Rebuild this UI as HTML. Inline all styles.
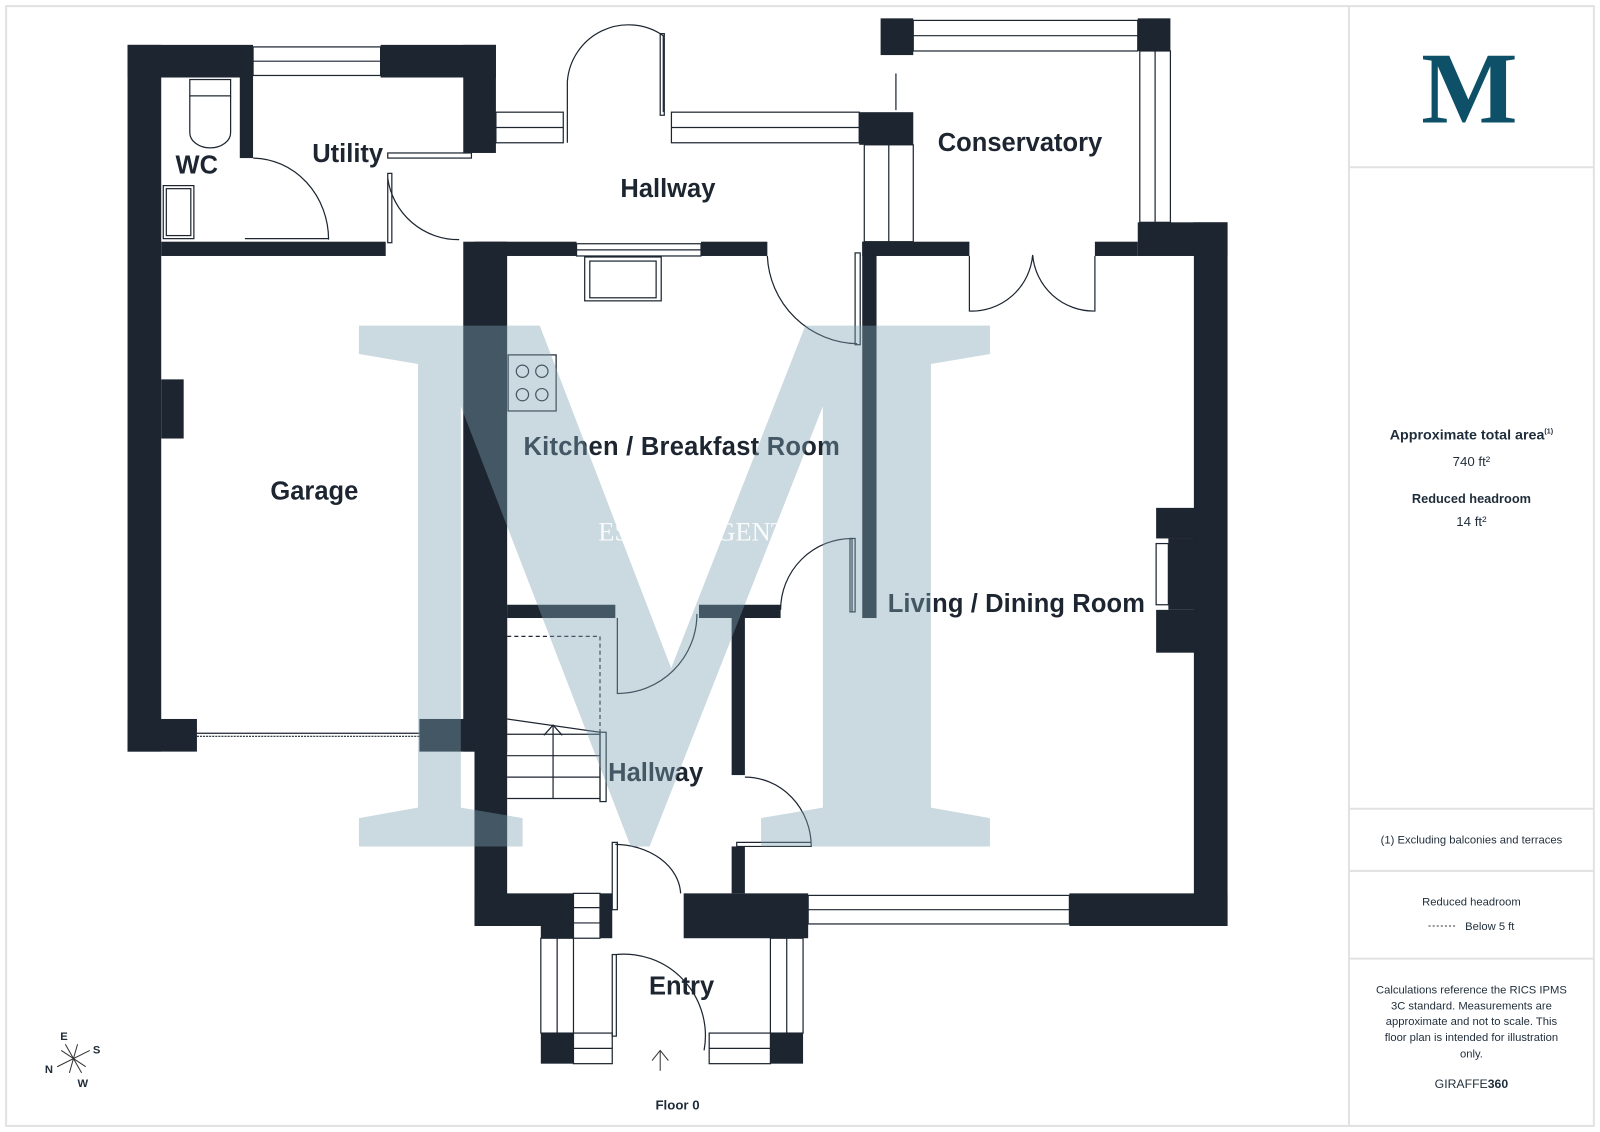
<!DOCTYPE html>
<html><head><meta charset="utf-8"><style>html,body{margin:0;padding:0;background:#fff}svg{display:block}</style></head><body>
<svg width="1600" height="1132" viewBox="0 0 1568 1110" preserveAspectRatio="none" xmlns="http://www.w3.org/2000/svg" font-family="Liberation Sans, sans-serif">
<rect x="6" y="6" width="1556" height="1098" fill="#fff" stroke="#e2e2e2" stroke-width="2"/>
<line x1="1322" y1="6" x2="1322" y2="1104" stroke="#e2e2e2" stroke-width="2"/>
<g stroke="#e2e2e2" stroke-width="2"><line x1="1322" y1="164" x2="1562" y2="164"/><line x1="1322" y1="793" x2="1562" y2="793"/><line x1="1322" y1="854" x2="1562" y2="854"/><line x1="1322" y1="940" x2="1562" y2="940"/></g>
<text x="1440" y="120" font-family="Liberation Serif, serif" font-weight="bold" font-size="100" fill="#0e5068" text-anchor="middle">M</text>
<g fill="#1f2d3a" text-anchor="middle">
<text x="1442" y="431" font-size="14" font-weight="bold">Approximate total area<tspan font-size="7" dy="-6">(1)</tspan></text>
<text x="1442" y="457" font-size="13">740 ft²</text>
<text x="1442" y="493" font-size="12.5" font-weight="bold">Reduced headroom</text>
<text x="1442" y="516" font-size="13">14 ft²</text>
<text x="1442" y="827" font-size="11">(1) Excluding balconies and terraces</text>
<text x="1442" y="888" font-size="11">Reduced headroom</text>
<text x="1460" y="912" font-size="11">Below 5 ft</text>
<text x="1442" y="974" font-size="11">Calculations reference the RICS IPMS</text>
<text x="1442" y="990" font-size="11">3C standard. Measurements are</text>
<text x="1442" y="1005" font-size="11">approximate and not to scale. This</text>
<text x="1442" y="1021" font-size="11">floor plan is intended for illustration</text>
<text x="1442" y="1037" font-size="11">only.</text>
<text x="1442" y="1067" font-size="12">GIRAFFE<tspan font-weight="bold">360</tspan></text>
<text x="664" y="1088" font-size="13" font-weight="bold">Floor 0</text>
</g>
<line x1="1400" y1="908" x2="1428" y2="908" stroke="#333" stroke-dasharray="2,2"/>
<g stroke="#333" stroke-width="1"><line x1="64" y1="1024" x2="80" y2="1052"/><line x1="56" y1="1046" x2="88" y2="1030"/><line x1="60" y1="1030" x2="84" y2="1046"/><line x1="76" y1="1024" x2="68" y2="1052"/></g>
<g font-size="11" font-weight="bold" fill="#1f2d3a"><text x="59" y="1020">E</text><text x="91" y="1033">S</text><text x="44" y="1052">N</text><text x="76" y="1066">W</text></g>
<line x1="647" y1="1050" x2="647" y2="1030" stroke="#333"/><polyline points="639,1040 647,1030 655,1040" fill="none" stroke="#333"/>
<g fill="none" stroke="#1c2530" stroke-width="1.2">
<rect x="248" y="46" width="125" height="28"/><line x1="248" y1="60" x2="373" y2="60"/>
<rect x="486" y="110" width="66" height="30"/><line x1="486" y1="125" x2="552" y2="125"/>
<rect x="658" y="110" width="184" height="30"/><line x1="658" y1="125" x2="842" y2="125"/>
<rect x="895" y="20" width="220" height="30"/><line x1="895" y1="35" x2="1115" y2="35"/>
<rect x="1117" y="50" width="30" height="168"/><line x1="1132" y1="50" x2="1132" y2="218"/>
<rect x="847" y="142" width="48" height="95"/><line x1="871" y1="142" x2="871" y2="237"/>
<rect x="565" y="239" width="122" height="12"/><line x1="565" y1="245" x2="687" y2="245"/>
<rect x="792" y="878" width="256" height="28"/><line x1="792" y1="892" x2="1048" y2="892"/>
<line x1="193" y1="719" x2="411" y2="719"/><line x1="193" y1="722" x2="411" y2="722" stroke-dasharray="2,1"/>
<rect x="530" y="920" width="32" height="93"/><line x1="546" y1="920" x2="546" y2="1013"/>
<rect x="755" y="920" width="32" height="93"/><line x1="771" y1="920" x2="771" y2="1013"/>
<rect x="562" y="1013" width="38" height="30"/><line x1="562" y1="1028" x2="600" y2="1028"/>
<rect x="695" y="1013" width="60" height="30"/><line x1="695" y1="1028" x2="755" y2="1028"/>
<path d="M556 140 L556 80 A60 60 0 0 1 650 35 L650 110"/><rect x="647" y="33" width="4" height="80"/>
<path d="M248 155 A75 80 0 0 1 322 235"/><line x1="240" y1="234" x2="322" y2="234"/>
<path d="M380 175 A70 70 0 0 0 450 235"/><rect x="380" y="150" width="82" height="5"/><rect x="380" y="170" width="4" height="68"/>
<path d="M752 251 A90 90 0 0 0 840 337"/><rect x="838" y="248" width="5" height="90"/>
<path d="M950 251 L950 305 A60 60 0 0 0 1012 250 A60 60 0 0 0 1073 305 L1073 251"/>
<path d="M765 598 A70 70 0 0 1 835 528 L835 600"/><rect x="833" y="528" width="5" height="72"/>
<path d="M605 606 L605 680 A78 78 0 0 0 683 602"/>
<path d="M730 762 A65 68 0 0 1 795 830 L722 830 L722 826 L795 826"/>
<path d="M603 828 A65 50 0 0 1 667 876"/><rect x="600" y="826" width="5" height="66"/>
<path d="M603 936 A80 80 0 0 1 690 1030"/><rect x="600" y="936" width="4" height="80"/>
<rect x="573" y="252" width="75" height="43"/><rect x="578" y="256" width="65" height="36"/>
<rect x="498" y="348" width="47" height="55"/><circle cx="512" cy="364" r="6"/><circle cx="531" cy="364" r="6"/><circle cx="512" cy="387" r="6"/><circle cx="531" cy="387" r="6"/>
<rect x="186" y="78" width="40" height="16"/><path d="M186 94 L186 130 A20 15 0 0 0 226 130 L226 94"/>
<rect x="160" y="182" width="30" height="52"/><rect x="163" y="185" width="24" height="46"/>
<rect x="1133" y="533" width="12" height="60"/>
<polyline points="497,624 588,624 588,718" stroke-dasharray="4,3"/>
<path d="M497 705 L588 718 L588 785"/><line x1="497" y1="720" x2="588" y2="720"/><line x1="497" y1="741" x2="588" y2="741"/><line x1="497" y1="762" x2="588" y2="762"/><line x1="497" y1="783" x2="588" y2="783"/>
<rect x="588" y="718" width="6" height="68"/><line x1="542" y1="712" x2="542" y2="783"/><polyline points="533,721 542,711 551,721"/>
<rect x="562" y="876" width="26" height="44"/><line x1="562" y1="890" x2="588" y2="890"/><line x1="562" y1="905" x2="588" y2="905"/>
<line x1="878" y1="72" x2="878" y2="108"/>
</g>
<g fill="#1c2530">
<rect x="125" y="44" width="33" height="693"/><rect x="125" y="44" width="123" height="32"/><rect x="373" y="44" width="113" height="32"/>
<rect x="454" y="44" width="32" height="106"/><rect x="235" y="76" width="13" height="79"/>
<rect x="158" y="237" width="220" height="14"/><rect x="454" y="237" width="43" height="500"/>
<rect x="158" y="372" width="22" height="58"/>
<rect x="125" y="705" width="68" height="32"/><rect x="411" y="705" width="54" height="32"/>
<rect x="465" y="237" width="100" height="14"/><rect x="687" y="237" width="65" height="14"/>
<rect x="842" y="110" width="53" height="32"/><rect x="863" y="18" width="32" height="36"/><rect x="1115" y="18" width="32" height="32"/>
<rect x="845" y="237" width="14" height="369"/>
<rect x="845" y="237" width="105" height="14"/><rect x="1073" y="237" width="42" height="14"/>
<rect x="1115" y="218" width="88" height="33"/><rect x="1170" y="218" width="33" height="690"/>
<rect x="1133" y="498" width="40" height="30"/><rect x="1133" y="598" width="40" height="42"/><rect x="1145" y="528" width="28" height="70"/>
<rect x="465" y="600" width="32" height="308"/>
<rect x="465" y="876" width="97" height="32"/><rect x="588" y="876" width="12" height="44"/><rect x="670" y="876" width="122" height="44"/>
<rect x="1048" y="876" width="155" height="32"/>
<rect x="497" y="593" width="106" height="13"/><rect x="685" y="593" width="80" height="13"/>
<rect x="717" y="606" width="13" height="154"/><rect x="717" y="830" width="13" height="46"/>
<rect x="530" y="908" width="32" height="12"/><rect x="755" y="908" width="32" height="12"/>
<rect x="530" y="1013" width="32" height="30"/><rect x="755" y="1013" width="32" height="30"/>
</g>
<g fill="#1c2530" font-weight="bold" font-size="25">
<text x="172" y="170">WC</text><text x="306" y="159">Utility</text><text x="608" y="193">Hallway</text>
<text x="919" y="148">Conservatory</text><text x="265" y="490">Garage</text>
<text x="513" y="446" textLength="310">Kitchen / Breakfast Room</text><text x="870" y="600" textLength="252">Living / Dining Room</text>
<text x="596" y="766">Hallway</text><text x="636" y="975">Entry</text>
</g>
<g opacity="0.4">
<text x="665" y="830" font-family="Liberation Serif, serif" font-weight="bold" font-size="780" fill="#7fa3b2" text-anchor="middle" textLength="650" lengthAdjust="spacingAndGlyphs">M</text>
</g>
<text x="686" y="530" font-family="Liberation Serif, serif" font-size="26" fill="#fff" text-anchor="middle" opacity="0.9">ESTATE AGENTS</text>
</svg>
</body></html>
